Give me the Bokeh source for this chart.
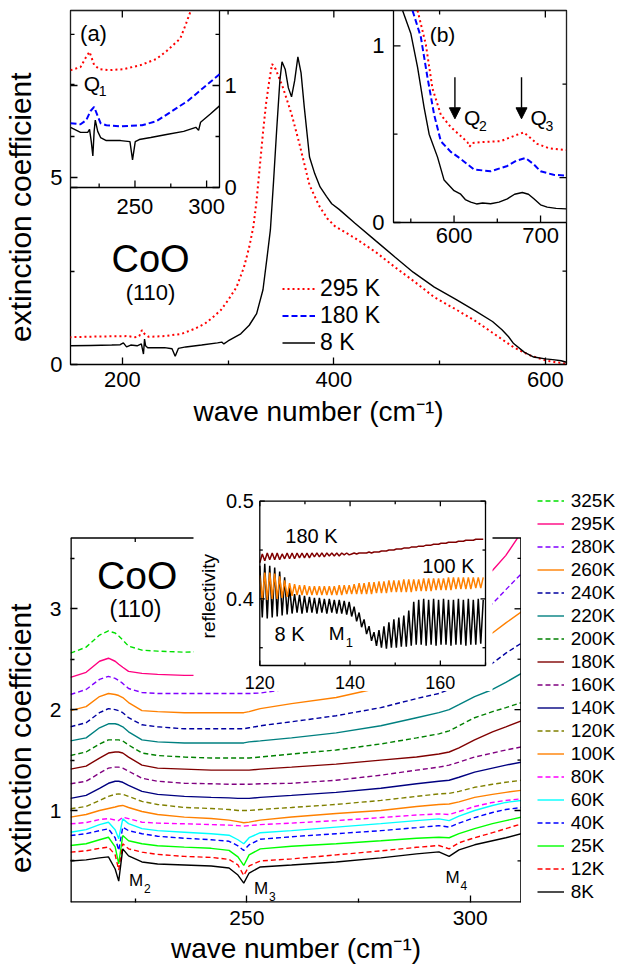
import math
from bokeh.plotting import figure
from bokeh.models import (Range1d, FixedTicker, Legend, LegendItem,
                          Arrow, NormalHead, ColumnDataSource)
from bokeh.layouts import column, row
from bokeh.embed import file_html
from bokeh.resources import INLINE
from bokeh.core.properties import value

FONT = "Liberation Sans"

# ======================= DATA =======================
# ---- top panel: main curves ----
t295_x = [150, 180, 205, 212, 216, 218.5, 221, 225, 240, 256, 268, 278, 285, 293, 300, 308, 315, 320, 324, 327,
          330, 333, 336, 339, 341.6, 345, 352, 360, 367.5, 377, 386, 394, 401, 420, 440, 458, 477, 495, 515, 533,
          550, 570, 585, 600, 610, 620]
t295_y = [0.73, 0.75, 0.76, 0.73, 0.76, 0.92, 0.82, 0.74, 0.76, 0.82, 0.95, 1.09, 1.25, 1.45, 1.72, 2.07, 2.6, 3.14, 3.7, 4.4,
          5.3, 6.2, 7.0, 7.6, 8.04, 7.9, 7.4, 6.7, 5.9, 4.8, 4.25, 3.9, 3.7, 3.38, 3.0, 2.6, 2.2, 1.8, 1.48, 1.18,
          0.85, 0.46, 0.25, 0.11, 0.06, 0.02]
t8_x = [150, 170, 190, 198, 201, 204, 208, 214, 218, 220, 221, 222, 224, 230, 240, 247, 250, 253, 260, 275,
        290, 294, 296, 300, 312, 320, 327, 333, 337, 340, 343, 346, 349, 351, 354, 357, 360, 363, 366, 369,
        372, 377, 382, 387, 393, 398, 405, 420, 440, 458, 475, 495, 515, 533, 550, 559, 565, 570, 580, 589,
        600, 607, 615, 620]
t8_y = [0.50, 0.51, 0.52, 0.53, 0.58, 0.47, 0.52, 0.50, 0.55, 0.28, 0.68, 0.50, 0.45, 0.45, 0.45, 0.42, 0.22, 0.43, 0.47, 0.52,
        0.58, 0.60, 0.55, 0.63, 0.82, 1.05, 1.36, 2.0, 2.9, 3.6, 4.9, 6.3, 7.6, 8.1, 7.9, 7.4, 7.16, 7.6, 8.23, 7.8,
        6.9, 5.55, 5.1, 4.75, 4.5, 4.3, 4.15, 3.78, 3.3, 2.87, 2.47, 2.07, 1.75, 1.45, 1.15, 0.93, 0.75, 0.56, 0.33, 0.2,
        0.15, 0.13, 0.1, 0.06]
top_legend = ["295 K", "180 K", "8 K"]
top_xticks, top_xminor = [200, 400, 600], [300, 500]
top_yticks, top_yminor = [0, 5], [2.5, 7.5]

# ---- inset (a) ----
a8_x = [205, 212, 217, 218.3, 219.5, 220.6, 221.5, 222.3, 224, 226, 230, 240, 246.5, 248.3, 250.2, 253, 261, 272, 284, 292.5,
        294.4, 295.8, 302.6, 309]
a8_y = [0.59, 0.54, 0.54, 0.57, 0.45, 0.31, 0.55, 0.66, 0.55, 0.49, 0.46, 0.46, 0.45, 0.27, 0.45, 0.47, 0.49, 0.52, 0.55, 0.59,
        0.56, 0.64, 0.72, 0.80]
a180_x = [205, 212, 216, 219, 221.5, 224, 226, 230, 240, 255, 265, 276, 287, 298, 309]
a180_y = [0.63, 0.62, 0.66, 0.75, 0.79, 0.70, 0.63, 0.61, 0.60, 0.61, 0.65, 0.75, 0.85, 0.98, 1.11]
a295_x = [205, 212, 215.5, 218.3, 221.5, 225.3, 232, 242, 254, 265, 272.3, 281.6, 285.5, 289]
a295_y = [1.15, 1.18, 1.27, 1.33, 1.2, 1.16, 1.15, 1.16, 1.20, 1.26, 1.34, 1.46, 1.6, 1.735]
a_xticks, a_xminor = [250, 300], [225, 275]
a_yticks, a_yminor = [0, 1], [0.5, 1.5]
a_q = [(214.3, 1.02)]

# ---- inset (b) ----
b8_x = [540.5, 550, 557.8, 565.4, 571.2, 580.9, 588.5, 600, 607.7, 613, 619.3, 626, 633, 642.3, 652, 661.6, 670, 678.9, 686, 692.3,
        700, 707.7, 718, 729.6]
b8_y = [1.2, 1.07, 0.88, 0.65, 0.50, 0.37, 0.24, 0.18, 0.16, 0.13, 0.115, 0.105, 0.11, 0.106, 0.115, 0.134, 0.16, 0.17, 0.16, 0.134,
        0.1, 0.087, 0.08, 0.077]
b180_x = [552, 561.6, 569.3, 577, 584.7, 596.2, 607.7, 623, 642.3, 661.6, 672, 682.7, 692, 700, 715, 729.6]
b180_y = [1.2, 1.05, 0.82, 0.61, 0.46, 0.40, 0.36, 0.30, 0.29, 0.32, 0.35, 0.365, 0.33, 0.29, 0.27, 0.265]
b295_x = [557.8, 567.3, 575, 584.7, 596.2, 607.7, 615.4, 618, 621, 630.8, 653.9, 669.2, 680.7, 688, 696.2, 710, 729.6]
b295_y = [1.2, 1.01, 0.76, 0.61, 0.54, 0.49, 0.455, 0.43, 0.45, 0.455, 0.46, 0.49, 0.51, 0.48, 0.445, 0.42, 0.41]
b_xticks, b_xminor = [600, 700], [550, 650]
b_yticks, b_yminor = [0, 1], [0.5]
q_x = [601, 678]
q_top = [0.822, 0.822]
q_tip = [0.587, 0.587]
q_sub = ["2", "3"]

# ---- bottom panel ----
bx = [210.5, 214, 217, 219, 220.5, 221.3, 222.2, 223.5, 226.5, 230, 236, 242, 246, 248, 249.3, 250.5, 253, 260, 270, 280,
      288, 293, 295.3, 297.5, 301, 305, 308, 311.5]
k8 = [0.50, 0.51, 0.53, 0.54, 0.42, 0.30, 0.62, 0.55, 0.49, 0.47, 0.46, 0.45, 0.43, 0.36, 0.28, 0.38, 0.44, 0.46, 0.49, 0.53,
      0.57, 0.59, 0.545, 0.61, 0.66, 0.70, 0.73, 0.77]
k12 = [0.587, 0.60, 0.625, 0.637, 0.56, 0.41, 0.67, 0.62, 0.587, 0.565, 0.545, 0.535, 0.515, 0.46, 0.355, 0.45, 0.50, 0.52, 0.56, 0.60,
       0.635, 0.653, 0.62, 0.68, 0.73, 0.78, 0.82, 0.868]
k25 = [0.653, 0.67, 0.71, 0.735, 0.64, 0.47, 0.752, 0.70, 0.67, 0.65, 0.637, 0.625, 0.605, 0.54, 0.455, 0.56, 0.62, 0.645, 0.67, 0.70,
       0.725, 0.735, 0.73, 0.77, 0.82, 0.87, 0.90, 0.934]
k40 = [0.752, 0.77, 0.80, 0.818, 0.73, 0.604, 0.835, 0.80, 0.77, 0.745, 0.725, 0.71, 0.695, 0.65, 0.604, 0.66, 0.715, 0.74, 0.77, 0.80,
       0.83, 0.85, 0.835, 0.875, 0.93, 0.98, 1.01, 1.03]
k60 = [0.785, 0.81, 0.86, 0.884, 0.81, 0.72, 0.917, 0.87, 0.82, 0.80, 0.785, 0.77, 0.755, 0.71, 0.67, 0.73, 0.78, 0.80, 0.835, 0.87,
       0.90, 0.917, 0.90, 0.945, 1.0, 1.05, 1.08, 1.10]
k80 = [0.868, 0.88, 0.91, 0.92, 0.905, 0.90, 0.934, 0.92, 0.884, 0.875, 0.868, 0.86, 0.855, 0.85, 0.845, 0.85, 0.86, 0.875, 0.90, 0.93,
       0.955, 0.967, 0.96, 0.99, 1.04, 1.08, 1.10, 1.116]
k100 = [0.934, 0.96, 1.0, 1.02, 1.035, 1.045, 1.05, 1.03, 0.99, 0.96, 0.934, 0.92, 0.905, 0.89, 0.878, 0.885, 0.905, 0.935, 0.97, 1.0,
        1.04, 1.06, 1.065, 1.085, 1.13, 1.16, 1.18, 1.20]
k120 = [1.017, 1.04, 1.10, 1.14, 1.16, 1.165, 1.16, 1.14, 1.09, 1.06, 1.03, 1.02, 1.01, 1.0, 1.0, 1.0, 1.01, 1.03, 1.06, 1.10,
        1.14, 1.165, 1.17, 1.19, 1.23, 1.26, 1.28, 1.30]
k140 = [1.12, 1.15, 1.22, 1.27, 1.29, 1.29, 1.28, 1.25, 1.19, 1.16, 1.14, 1.13, 1.125, 1.12, 1.12, 1.12, 1.13, 1.15, 1.18, 1.22,
        1.265, 1.29, 1.30, 1.33, 1.38, 1.42, 1.45, 1.48]
k160 = [1.265, 1.29, 1.37, 1.42, 1.43, 1.43, 1.42, 1.39, 1.32, 1.29, 1.27, 1.265, 1.26, 1.26, 1.26, 1.26, 1.265, 1.27, 1.30, 1.35,
        1.40, 1.43, 1.45, 1.48, 1.53, 1.57, 1.60, 1.63]
k180 = [1.41, 1.44, 1.52, 1.57, 1.58, 1.58, 1.57, 1.53, 1.45, 1.42, 1.41, 1.40, 1.40, 1.40, 1.40, 1.40, 1.41, 1.43, 1.46, 1.50,
        1.53, 1.56, 1.58, 1.62, 1.70, 1.78, 1.83, 1.89]
k200 = [1.545, 1.58, 1.66, 1.70, 1.70, 1.70, 1.69, 1.65, 1.57, 1.545, 1.53, 1.52, 1.52, 1.52, 1.52, 1.52, 1.53, 1.56, 1.60, 1.66,
        1.72, 1.76, 1.79, 1.84, 1.92, 1.98, 2.02, 2.07]
k220 = [1.69, 1.72, 1.82, 1.86, 1.86, 1.85, 1.83, 1.78, 1.70, 1.68, 1.67, 1.67, 1.67, 1.67, 1.67, 1.68, 1.69, 1.72, 1.77, 1.84,
        1.92, 1.97, 2.0, 2.05, 2.13, 2.20, 2.27, 2.36]
k240 = [1.83, 1.87, 1.97, 2.01, 2.0, 1.99, 1.97, 1.92, 1.85, 1.83, 1.81, 1.81, 1.81, 1.81, 1.81, 1.82, 1.84, 1.88, 1.94, 2.02,
        2.11, 2.16, 2.20, 2.27, 2.37, 2.46, 2.56, 2.66]
k260 = [1.99, 2.03, 2.13, 2.16, 2.15, 2.14, 2.12, 2.07, 1.99, 1.98, 1.97, 1.97, 1.97, 1.97, 1.97, 1.98, 2.01, 2.06, 2.12, 2.22,
        2.33, 2.42, 2.47, 2.55, 2.66, 2.76, 2.86, 2.97]
k280 = [2.15, 2.20, 2.30, 2.33, 2.31, 2.29, 2.26, 2.21, 2.17, 2.16, 2.16, 2.16, 2.16, 2.16, 2.16, 2.16, 2.165, 2.21, 2.29, 2.40,
        2.54, 2.64, 2.70, 2.80, 2.93, 3.05, 3.19, 3.35]
k295_x = bx[:-1] + [310.6]
k295 = [2.32, 2.37, 2.48, 2.51, 2.48, 2.45, 2.42, 2.38, 2.36, 2.35, 2.34, 2.34, 2.34, 2.34, 2.34, 2.35, 2.37, 2.41, 2.50, 2.64,
        2.80, 2.92, 2.99, 3.10, 3.24, 3.38, 3.53, 3.70]
k325_x = bx[:12]
k325 = [2.56, 2.62, 2.74, 2.78, 2.76, 2.73, 2.69, 2.63, 2.59, 2.58, 2.57, 2.58]
temps = ["325K", "295K", "280K", "260K", "240K", "220K", "200K", "180K", "160K",
         "140K", "120K", "100K", "80K", "60K", "40K", "25K", "12K", "8K"]
bot_xticks, bot_xminor = [250, 300], [225, 275]
bot_yticks, bot_yminor = [1, 2, 3], [0.5, 1.5, 2.5, 3.5]
m_x = [223.6, 251.6, 294.5]
m_y = [0.306, 0.227, 0.339]
m_sub = ["2", "3", "4"]

# ---- reflectivity inset (interference fringes: successive maxima / minima) ----
rx = [120.0, 120.55, 121.1, 121.65, 122.2, 122.75, 123.3, 123.85, 124.4, 124.95, 125.5, 126.05,
      126.6, 127.15, 127.7, 128.25, 128.8, 129.35, 129.9, 130.45, 131.0, 131.55, 132.1, 132.65, 133.2, 133.75,
      134.3, 134.85, 135.4, 135.95, 136.5, 137.05, 137.6, 138.15, 138.7, 139.25, 139.8,
      140.35, 140.9, 141.45, 142.0, 142.55, 143.1, 143.65, 144.2, 144.75, 145.3, 145.85,
      146.4, 146.95, 147.5, 148.05, 148.6, 149.15, 149.7, 150.25, 150.8, 151.35, 151.9, 152.45, 153.0,
      153.55, 154.1, 154.65, 155.2, 155.75, 156.3, 156.85, 157.4, 157.95, 158.5, 159.05, 159.6, 160.15, 160.7,
      161.25, 161.8, 162.35, 162.9, 163.45, 164.0, 164.55, 165.1, 165.65, 166.2, 166.75, 167.3, 167.85, 168.4,
      168.95, 169.5]
r8 = [0.434, 0.381, 0.436, 0.380, 0.434, 0.381, 0.432, 0.382, 0.428, 0.383, 0.422, 0.384,
      0.412, 0.385, 0.405, 0.386, 0.404, 0.385, 0.403, 0.386, 0.402, 0.386, 0.401, 0.385, 0.401, 0.386,
      0.400, 0.385, 0.400, 0.386, 0.399, 0.385, 0.399, 0.385, 0.398, 0.384, 0.397,
      0.382, 0.392, 0.377, 0.386, 0.371, 0.379, 0.364, 0.372, 0.357, 0.366, 0.352,
      0.368, 0.350, 0.372, 0.349, 0.376, 0.350, 0.379, 0.350, 0.381, 0.351, 0.383, 0.351, 0.388,
      0.352, 0.397, 0.353, 0.399, 0.353, 0.400, 0.352, 0.399, 0.353, 0.400, 0.352, 0.399, 0.353, 0.400,
      0.353, 0.399, 0.352, 0.399, 0.353, 0.400, 0.353, 0.399, 0.352, 0.400, 0.353, 0.399, 0.353, 0.400,
      0.354, 0.399]
r100 = [0.424, 0.399, 0.427, 0.399, 0.427, 0.400, 0.426, 0.400, 0.423, 0.401, 0.419, 0.402,
        0.416, 0.403, 0.415, 0.404, 0.414, 0.404, 0.414, 0.404, 0.413, 0.404, 0.413, 0.404, 0.413, 0.404,
        0.413, 0.404, 0.413, 0.404, 0.413, 0.404, 0.414, 0.404, 0.414, 0.405, 0.414,
        0.405, 0.415, 0.405, 0.416, 0.405, 0.416, 0.405, 0.417, 0.405, 0.417, 0.406,
        0.418, 0.406, 0.418, 0.406, 0.419, 0.407, 0.419, 0.407, 0.419, 0.407, 0.420, 0.407, 0.420,
        0.407, 0.420, 0.408, 0.420, 0.408, 0.421, 0.408, 0.421, 0.408, 0.421, 0.409, 0.421, 0.409, 0.421,
        0.409, 0.422, 0.409, 0.422, 0.410, 0.422, 0.410, 0.422, 0.410, 0.422, 0.410, 0.422, 0.411, 0.422,
        0.411, 0.422]
r180 = [0.437, 0.446, 0.439, 0.447, 0.440, 0.447, 0.440, 0.447, 0.440, 0.446, 0.441, 0.447,
        0.441, 0.447, 0.441, 0.447, 0.442, 0.447, 0.442, 0.447, 0.442, 0.447, 0.443, 0.447, 0.443, 0.447,
        0.443, 0.447, 0.444, 0.447, 0.444, 0.447, 0.444, 0.447, 0.445, 0.447, 0.445,
        0.446, 0.447, 0.446, 0.447, 0.447, 0.447, 0.447, 0.448, 0.447, 0.448, 0.448,
        0.448, 0.449, 0.449, 0.449, 0.450, 0.450, 0.450, 0.451, 0.451, 0.451, 0.452, 0.452, 0.452,
        0.453, 0.453, 0.453, 0.454, 0.454, 0.454, 0.455, 0.455, 0.455, 0.456, 0.456, 0.456, 0.457, 0.457,
        0.457, 0.458, 0.458, 0.458, 0.458, 0.459, 0.459, 0.459, 0.460, 0.460, 0.460, 0.460, 0.461, 0.461,
        0.461, 0.461]
r_xticks, r_xminor = [120, 140, 160], [130, 150, 170]
r_yticks, r_yminor = [0.4, 0.5], [0.35, 0.45]
r_labels = ["180 K", "100 K", "8 K"]

# ======================= STYLE / LAYOUT =======================
W = 618
TOP_H, BOT_H = 436, 537
BOT_W, LEG_W = 521, 97
TOP_FRAME = (70, 566, 10, 364)          # l, r, t, b  (px in top figure)
BOT_FRAME = (70, 521, 54, 466)          # px in bottom figure
BLACK, RED, BLUE = "#000000", "#ff0000", "#0000ff"
bot_colors = ["#00e000", "#ff0080", "#8000ff", "#ff8000", "#0000a0", "#008080", "#008000", "#800000", "#800080",
              "#000080", "#808000", "#ff8000", "#ff00ff", "#00ffff", "#0000ff", "#00ff00", "#ff0000", "#000000"]
bot_dash = ["5 3", "solid", "5 3", "solid", "5 3", "solid", "5 3", "solid", "5 3",
            "solid", "5 3", "solid", "5 3", "solid", "5 3", "solid", "5 3", "solid"]
DOT, DASH = "2 3", "6 3"
# y-axis titles: trailing figure spaces shift the visible text downwards along the axis
YLABEL_TOP = "extinction coefficient" + "\u2007\u2007\u2009"
YLABEL_BOT = "extinction coefficient" + "\u2007" * 5


class Panel:
    def __init__(self, p, xr, yr, box, lim):
        self.p, self.xr, self.yr = p, xr, yr
        self.l, self.r, self.t, self.b = box
        self.x0, self.x1, self.y0, self.y1 = lim
        self.kx = (self.x1 - self.x0) / (self.r - self.l)
        self.ky = (self.y1 - self.y0) / (self.b - self.t)

    def fx(self, px):
        return self.x0 + (px - self.l) * self.kx

    def fy(self, py):
        return self.y0 + (self.b - py) * self.ky

    def ranges(self, frame):
        fl, fr, ft, fb = frame
        return Range1d(self.fx(fl), self.fx(fr)), Range1d(self.fy(fb), self.fy(ft))

    def kw(self):
        return dict(x_range_name=self.xr, y_range_name=self.yr)

    def ticks(self, vals, side, length, width=1.3):
        n = len(vals)
        v = list(vals)
        if side == "bottom":
            x0, x1, y0, y1 = v, v, [self.y0] * n, [self.y0 + length * self.ky] * n
        elif side == "top":
            x0, x1, y0, y1 = v, v, [self.y1] * n, [self.y1 - length * self.ky] * n
        elif side == "left":
            x0, x1, y0, y1 = [self.x0] * n, [self.x0 + length * self.kx] * n, v, v
        else:
            x0, x1, y0, y1 = [self.x1] * n, [self.x1 - length * self.kx] * n, v, v
        self.p.segment(x0=x0, y0=y0, x1=x1, y1=y1, line_color=BLACK, line_width=width, **self.kw())

    def text(self, xs, ys, texts, size, align="center", baseline="middle", xo=0, yo=0, angle=0):
        self.p.text(x=xs, y=ys, text=texts, text_font=value(FONT), text_font_size=value(f"{size}px"),
                    text_align=align, text_baseline=baseline, x_offset=xo, y_offset=yo, angle=angle,
                    text_color=BLACK, **self.kw())

    def box(self, fill=None, width=1.3):
        self.p.quad(left=[self.x0], right=[self.x1], bottom=[self.y0], top=[self.y1],
                    fill_color=fill, line_color=BLACK, line_width=width, **self.kw())

    def line(self, xs, ys, color, width=1.4, dash="solid"):
        return self.p.line(xs, ys, line_color=color, line_width=width, line_dash=dash, **self.kw())


def style_axis(ax, ticks, minor, size, standoff=7):
    ax.ticker = FixedTicker(ticks=ticks, minor_ticks=minor)
    ax.axis_line_color = None
    ax.major_tick_in, ax.major_tick_out = 7, 0
    ax.minor_tick_in, ax.minor_tick_out = 4, 0
    ax.major_tick_line_width = 1.3
    ax.minor_tick_line_width = 1.3
    ax.major_label_text_font = FONT
    ax.major_label_text_color = BLACK
    ax.major_label_standoff = standoff
    ax.major_label_text_font_size = f"{size}px"
    ax.axis_label_text_font = FONT
    ax.axis_label_text_font_style = "normal"
    ax.axis_label_text_color = BLACK


# ======================= TOP FIGURE =======================
top = figure(width=W, height=TOP_H, x_range=Range1d(151, 620), y_range=Range1d(0, 9.47),
             output_backend="svg", toolbar_location=None,
             min_border_left=70, min_border_right=52, min_border_top=10, min_border_bottom=72)
top.grid.visible = False
top.outline_line_color = BLACK
top.outline_line_width = 1.3

style_axis(top.xaxis[0], top_xticks, top_xminor, 22, standoff=7)
style_axis(top.yaxis[0], top_yticks, top_yminor, 22, standoff=8)
top.xaxis[0].axis_label = "wave number (cm\u207b\u00b9)"
top.xaxis[0].axis_label_text_font_size = "28px"
top.xaxis[0].axis_label_standoff = 6
top.yaxis[0].axis_label = YLABEL_TOP
top.yaxis[0].axis_label_text_font_size = "30px"
top.yaxis[0].axis_label_standoff = 10

pt = Panel(top, "default", "default", TOP_FRAME, (151, 620, 0, 9.47))
pa = Panel(top, "ax", "ay", (70, 219, 10, 187), (205, 309, 0, 1.735))
pb = Panel(top, "bx", "by", (393, 566, 10, 222), (530, 730, 0, 1.2))
axr, ayr = pa.ranges(TOP_FRAME)
bxr, byr = pb.ranges(TOP_FRAME)
top.extra_x_ranges = {"ax": axr, "bx": bxr}
top.extra_y_ranges = {"ay": ayr, "by": byr}

ren295 = pt.line(t295_x, t295_y, RED, width=2.0, dash=DOT)
ren8 = pt.line(t8_x, t8_y, BLACK, width=1.4)

pt.text([pt.fx(150)], [pt.fy(258)], ["CoO"], 38)
pt.text([pt.fx(150)], [pt.fy(291.6)], ["(110)"], 22)

# inset (a)
pa.box(fill="white")
pa.line(a295_x, a295_y, RED, width=2.0, dash=DOT)
ren180 = pa.line(a180_x, a180_y, BLUE, width=2.0, dash=DASH)
pa.line(a8_x, a8_y, BLACK, width=1.4)
pa.ticks(a_xticks, "bottom", 7)
pa.ticks(a_xminor, "bottom", 4)
pa.ticks(a_yticks, "left", 7)
pa.ticks(a_yminor, "left", 4)
pa.ticks(a_yticks, "right", 7)
pa.ticks(a_yminor, "right", 4)
pa.text(a_xticks, [pa.y0] * len(a_xticks), [str(t) for t in a_xticks], 22, yo=18.5)
pa.text([pa.x1] * len(a_yticks), a_yticks, [str(t) for t in a_yticks], 22, align="left", xo=5)
pa.text([pa.fx(93)], [pa.fy(33)], ["(a)"], 22)
pa.text([q[0] for q in a_q], [q[1] for q in a_q], ["Q"], 21, align="left")
pa.text([q[0] for q in a_q], [q[1] for q in a_q], ["1"], 14, align="left", xo=15, yo=8)

# inset (b)
pb.box(fill="white")
pb.line(b295_x, b295_y, RED, width=2.0, dash=DOT)
pb.line(b180_x, b180_y, BLUE, width=2.0, dash=DASH)
pb.line(b8_x, b8_y, BLACK, width=1.4)
pb.ticks(b_xticks, "bottom", 7)
pb.ticks(b_xminor, "bottom", 4)
pb.ticks(b_yticks, "left", 7)
pb.ticks(b_yminor, "left", 4)
pb.text(b_xticks, [pb.y0] * len(b_xticks), [str(t) for t in b_xticks], 22, yo=12.5)
pb.text([pb.x0] * len(b_yticks), b_yticks, [str(t) for t in b_yticks], 22, align="right", xo=-9)
pb.text([pb.fx(442)], [pb.fy(34)], ["(b)"], 21)
qsrc = ColumnDataSource(dict(x=q_x, y0=q_top, y1=q_tip))
top.add_layout(Arrow(end=NormalHead(size=11, fill_color=BLACK, line_color=BLACK, line_width=1),
                     x_start="x", y_start="y0", x_end="x", y_end="y1", source=qsrc,
                     line_color=BLACK, line_width=1.4, x_range_name="bx", y_range_name="by"))
pb.text(q_x, [0.593] * len(q_x), ["Q"] * len(q_x), 21, align="left", xo=9)
pb.text(q_x, [0.593] * len(q_x), q_sub, 14, align="left", xo=24, yo=8)

# main-frame ticks on top and right (drawn over the insets)
pt.ticks(top_xticks, "top", 7)
pt.ticks(top_xminor, "top", 4)
pt.ticks(top_yticks, "right", 7)
pt.ticks(top_yminor, "right", 4)

leg_top = Legend(items=[LegendItem(label=lab, renderers=[r]) for lab, r in zip(top_legend, [ren295, ren180, ren8])],
                 location=(212, 8), glyph_width=33, glyph_height=27, label_height=27, label_standoff=5,
                 spacing=0, padding=0, margin=0, label_text_font=FONT, label_text_font_size="23px",
                 label_text_color=BLACK, border_line_color=None, background_fill_alpha=0)
top.add_layout(leg_top)

# ======================= BOTTOM FIGURE =======================
pm = Panel(None, "default", "default", (70, 521, 101.5, 466), (210.5, 311.5, 0.0878, 3.702))
bxr0, byr0 = pm.ranges(BOT_FRAME)
bot = figure(width=BOT_W, height=BOT_H, x_range=bxr0, y_range=byr0,
             output_backend="svg", toolbar_location=None,
             min_border_left=70, min_border_right=0, min_border_top=54, min_border_bottom=71)
pm.p = bot
bot.grid.visible = False
bot.outline_line_color = None
style_axis(bot.xaxis[0], bot_xticks, bot_xminor, 21, standoff=8)
style_axis(bot.yaxis[0], bot_yticks, bot_yminor, 21, standoff=9)
bot.xaxis[0].axis_label = "wave number (cm\u207b\u00b9)"
bot.xaxis[0].axis_label_text_font_size = "28px"
bot.xaxis[0].axis_label_standoff = 5
bot.yaxis[0].axis_label = YLABEL_BOT
bot.yaxis[0].axis_label_text_font_size = "30px"
bot.yaxis[0].axis_label_standoff = 10

pr = Panel(bot, "rx", "ry", (259.3, 485, 64.7, 229), (120, 170, 0.3318, 0.5))
rxr, ryr = pr.ranges(BOT_FRAME)
bot.extra_x_ranges = {"rx": rxr}
bot.extra_y_ranges = {"ry": ryr}

series = [(k325_x, k325), (k295_x, k295), (bx, k280), (bx, k260), (bx, k240), (bx, k220), (bx, k200),
          (bx, k180), (bx, k160), (bx, k140), (bx, k120), (bx, k100), (bx, k80), (bx, k60), (bx, k40),
          (bx, k25), (bx, k12), (bx, k8)]
for (xs, ys), c, d in zip(series, bot_colors, bot_dash):
    pm.line(xs, ys, c, width=1.4, dash=d)

# main box (sides on the frame edge are half clipped -> thick)
bot.segment(x0=[pm.x0, pm.x1, pm.x0], y0=[pm.y0, pm.y0, pm.y0], x1=[pm.x0, pm.x1, pm.x1], y1=[pm.y1, pm.y1, pm.y0],
            line_color=BLACK, line_width=2.6)
bot.segment(x0=[pm.x0], y0=[pm.y1], x1=[pm.x1], y1=[pm.y1], line_color=BLACK, line_width=1.3)
pm.ticks(bot_xticks, "top", 7)
pm.ticks(bot_xminor, "top", 4)
pm.ticks(bot_yticks, "right", 7)
pm.ticks(bot_yminor, "right", 4)

pm.text([pm.fx(136.7)], [pm.fy(575 - 436)], ["CoO"], 39)
pm.text([pm.fx(135)], [pm.fy(608.3 - 436)], ["(110)"], 23)
pm.text(m_x, m_y, ["M"] * len(m_x), 17, align="left")
pm.text(m_x, m_y, m_sub, 12, align="left", xo=15, yo=8)

# reflectivity inset: white canvas, box, curves
bot.quad(left=[pr.fx(193)], right=[pr.fx(492)], bottom=[pr.fy(254.5)], top=[pr.fy(54)],
         fill_color="white", line_color=None, x_range_name="rx", y_range_name="ry")
pr.line(rx, r8, BLACK, width=1.5)
pr.line(rx, r100, "#ff8000", width=1.5)
pr.line(rx, r180, "#800000", width=1.5)
pr.box()
pr.ticks(r_xticks, "bottom", 5)
pr.ticks(r_xminor, "bottom", 3)
pr.ticks(r_xticks, "top", 5)
pr.ticks(r_xminor, "top", 3)
pr.ticks(r_yticks, "left", 5)
pr.ticks(r_yminor, "left", 3)
pr.ticks(r_yticks, "right", 5)
pr.ticks(r_yminor, "right", 3)
pr.text(r_xticks, [pr.y0] * len(r_xticks), [str(t) for t in r_xticks], 18, yo=16.7)
pr.text([pr.x0] * len(r_yticks), r_yticks, [str(t) for t in r_yticks], 20, align="right", xo=-6)
pr.text([pr.fx(208.3)], [pr.fy(595.7 - 436)], ["reflectivity"], 19, angle=math.pi / 2)
pr.text([pr.fx(311), pr.fx(448), pr.fx(289)], [pr.fy(535 - 436), pr.fy(565 - 436), pr.fy(633.3 - 436)],
        r_labels, 20)
pr.text([pr.fx(328.3)], [pr.fy(633 - 436)], ["M"], 19, align="left")
pr.text([pr.fx(328.3)], [pr.fy(633 - 436)], ["1"], 13, align="left", xo=17, yo=9)

# ======================= LEGEND STRIP (right of the bottom panel) =======================
# the same series are attached here (outside this strip's visible range) so that the legend
# has a frame of its own beside the bottom panel (its frame is aligned with the panel's frame)
legfig = figure(width=LEG_W, height=BOT_H, x_range=Range1d(0, 1), y_range=Range1d(0, 1),
                output_backend="svg", toolbar_location=None, x_axis_location=None, y_axis_location=None,
                min_border_left=0, min_border_right=0, min_border_top=0, min_border_bottom=0)
legfig.grid.visible = False
legfig.outline_line_color = None
leg_r = []
for (xs, ys), c, d in zip(series, bot_colors, bot_dash):
    leg_r.append(legfig.line(xs, ys, line_color=c, line_width=1.4, line_dash=d))
leg_bot = Legend(items=[LegendItem(label=t, renderers=[r]) for t, r in zip(temps, leg_r)],
                 location=(15.7, -1), glyph_width=27, glyph_height=23, label_height=23, label_standoff=7,
                 spacing=0, padding=0, margin=0, label_text_font=FONT, label_text_font_size="19px",
                 label_text_color=BLACK, border_line_color=None, background_fill_alpha=0)
legfig.add_layout(leg_bot)

layout = column(top, row(bot, legfig, spacing=0), spacing=0)
open("out.html", "w").write(file_html(layout, INLINE))
